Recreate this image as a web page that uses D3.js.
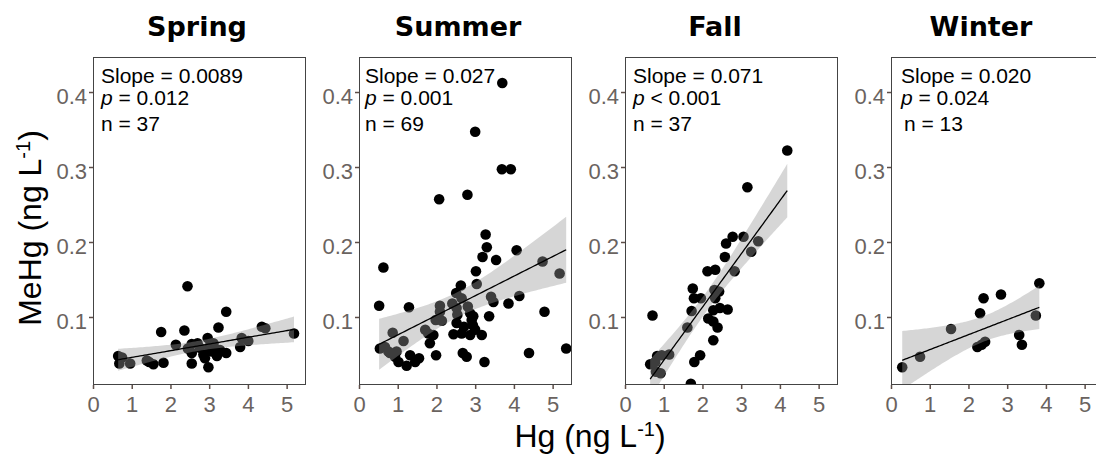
<!DOCTYPE html>
<html>
<head>
<meta charset="utf-8">
<script src="https://cdn.jsdelivr.net/npm/d3@7"></script>
<style>
  html, body { margin: 0; padding: 0; background: #fff; }
  svg { display: block; }
</style>
</head>
<body>
<script>
// ---------------- DATA ----------------
const seasons = ["Spring", "Summer", "Fall", "Winter"];

const springHg   = [2.44,3.44,1.76,2.36,3.24,4.36,4.45,5.19,2.14,2.96,2.55,3.11,3.84,4.01,3.80,0.65,0.68,0.96,1.39,1.56,1.82,2.55,2.98,2.55,2.85,3.07,3.20,3.44,2.76,3.28,2.89,2.70,3.00,1.45,2.45,3.15,0.75];
const springMeHg = [0.141,0.107,0.080,0.082,0.086,0.087,0.085,0.078,0.063,0.072,0.064,0.065,0.072,0.068,0.060,0.048,0.038,0.038,0.042,0.037,0.039,0.038,0.033,0.052,0.050,0.054,0.048,0.052,0.059,0.056,0.045,0.065,0.060,0.040,0.058,0.058,0.046];

const summerHg   = [3.70,3.00,3.69,3.92,2.80,2.07,3.27,3.30,3.19,3.54,4.07,0.63,3.02,4.74,5.18,2.63,3.04,2.51,2.65,3.41,3.47,4.14,3.86,0.52,1.29,2.09,2.41,2.81,1.98,2.14,2.54,2.95,3.36,4.79,0.87,1.15,1.79,1.92,2.44,2.65,2.87,3.17,2.71,2.94,2.52,1.83,0.67,0.80,0.93,1.02,1.23,1.32,1.55,1.45,1.99,2.68,2.78,3.24,4.39,5.35,0.54,0.76,0.97,2.52,2.87,2.09,1.71,3.00,2.91];
const summerMeHg = [0.412,0.347,0.297,0.297,0.263,0.257,0.210,0.193,0.180,0.176,0.189,0.166,0.161,0.174,0.158,0.142,0.144,0.132,0.125,0.127,0.120,0.128,0.118,0.115,0.113,0.115,0.118,0.114,0.096,0.095,0.103,0.101,0.101,0.107,0.079,0.068,0.078,0.076,0.077,0.078,0.076,0.076,0.087,0.089,0.092,0.065,0.060,0.052,0.047,0.040,0.035,0.049,0.045,0.040,0.049,0.052,0.047,0.040,0.052,0.058,0.058,0.054,0.054,0.112,0.105,0.107,0.083,0.083,0.096];

const fallHg   = [4.19,3.16,2.61,2.78,3.06,3.44,3.26,2.58,2.83,2.13,2.33,1.75,2.31,2.43,1.78,1.96,2.33,1.72,0.71,2.28,2.45,2.65,2.15,2.28,2.39,1.61,2.28,1.94,1.79,0.65,0.83,0.95,1.14,0.80,1.70,0.78,0.92];
const fallMeHg = [0.322,0.273,0.198,0.207,0.207,0.201,0.187,0.180,0.161,0.161,0.163,0.138,0.136,0.134,0.125,0.125,0.125,0.108,0.102,0.109,0.112,0.110,0.098,0.094,0.086,0.086,0.069,0.049,0.040,0.037,0.048,0.049,0.050,0.027,0.011,0.040,0.025];

const winterHg   = [3.83,2.84,2.39,2.30,3.74,1.55,3.31,3.38,2.43,2.34,2.23,0.75,0.29];
const winterMeHg = [0.145,0.130,0.125,0.105,0.102,0.084,0.076,0.063,0.067,0.063,0.060,0.047,0.033];

const slopeLabels = ["0.0089", "0.027", "0.071", "0.020"];
const pOps        = ["=", "=", "<", "="];
const pValues     = ["0.012", "0.001", "0.001", "0.024"];
const nLabels     = ["37", "69", "37", "13"];

const xTicks = [0, 1, 2, 3, 4, 5];
const yTicks = [0.1, 0.2, 0.3, 0.4];
const xDomain = [0, 5.5];
const yDomain = [0.0093, 0.4467];

const panelData = [
  {hg: springHg, mehg: springMeHg},
  {hg: summerHg, mehg: summerMeHg},
  {hg: fallHg,   mehg: fallMeHg},
  {hg: winterHg, mehg: winterMeHg}
];

// ---------------- LAYOUT ----------------
const W = 1096, H = 467;
const panelLefts = [93, 359, 625, 891];
const panelW = 213, panelTop = 57, panelBottom = 385;
const titleCenters = [197, 458, 715, 981];
const annotX = [101, 365, 633, 901];
const nX = [101, 365, 633, 904];

const svg = d3.select("body").append("svg").attr("width", W).attr("height", H);
const defs = svg.append("defs");

// t quantile (0.975) via Cornish-Fisher expansion
function tq(df) {
  const z = 1.959964;
  const z3 = z*z*z, z5 = z3*z*z, z7 = z5*z*z;
  return z + (z3 + z)/(4*df) + (5*z5 + 16*z3 + 3*z)/(96*df*df)
           + (3*z7 + 19*z5 + 17*z3 - 15*z)/(384*df*df*df);
}
function fit(xs, ys) {
  const n = xs.length;
  const mx = d3.mean(xs), my = d3.mean(ys);
  let sxx = 0, sxy = 0;
  for (let i = 0; i < n; i++) { sxx += (xs[i]-mx)**2; sxy += (xs[i]-mx)*(ys[i]-my); }
  const b = sxy / sxx, a = my - b*mx;
  let sse = 0;
  for (let i = 0; i < n; i++) sse += (ys[i] - a - b*xs[i])**2;
  const s = Math.sqrt(sse/(n-2));
  return {a, b, s, n, mx, sxx, t: tq(n-2)};
}

const tickColor = "#5e4e48";
const tickTextColor = "#6a6360";

panelData.forEach((pd, i) => {
  const L = panelLefts[i];
  const x = d3.scaleLinear().domain(xDomain).range([L, L + panelW]);
  const y = d3.scaleLinear().domain(yDomain).range([panelBottom, panelTop]);

  const clipId = "clip" + i;
  defs.append("clipPath").attr("id", clipId)
    .append("rect").attr("x", L).attr("y", panelTop)
    .attr("width", panelW).attr("height", panelBottom - panelTop);

  const g = svg.append("g");
  const inner = g.append("g").attr("clip-path", `url(#${clipId})`);

  const pts = pd.hg.map((v, k) => [v, pd.mehg[k]]);
  inner.selectAll("circle").data(pts).join("circle")
    .attr("cx", d => x(d[0])).attr("cy", d => y(d[1]))
    .attr("r", 5.3).attr("fill", "#000");

  const f = fit(pd.hg, pd.mehg);
  const [xmin, xmax] = d3.extent(pd.hg);
  const xs = d3.range(0, 81).map(k => xmin + (xmax - xmin) * k / 80);
  const band = xs.map(xv => {
    const yh = f.a + f.b * xv;
    const se = f.s * Math.sqrt(1/f.n + (xv - f.mx)**2 / f.sxx);
    return {x: xv, y: yh, lo: yh - f.t*se, hi: yh + f.t*se};
  });
  inner.append("path").datum(band)
    .attr("d", d3.area().x(d => x(d.x)).y0(d => y(d.lo)).y1(d => y(d.hi)))
    .attr("fill", "#999999").attr("fill-opacity", 0.4);
  inner.append("path").datum(band)
    .attr("d", d3.line().x(d => x(d.x)).y(d => y(d.y)))
    .attr("fill", "none").attr("stroke", "#000").attr("stroke-width", 1.3);

  // border
  g.append("rect").attr("x", L + 0.5).attr("y", panelTop + 0.5)
    .attr("width", panelW - 1).attr("height", panelBottom - panelTop - 1)
    .attr("fill", "none").attr("stroke", "#444").attr("stroke-width", 1);

  // axes
  const xAxis = g.append("g").attr("transform", `translate(0,${panelBottom})`)
    .call(d3.axisBottom(x).tickValues(xTicks).tickFormat(d3.format("d")).tickSize(4).tickPadding(7));
  const yAxis = g.append("g").attr("transform", `translate(${L},0)`)
    .call(d3.axisLeft(y).tickValues(yTicks).tickFormat(d3.format(".1f")).tickSize(4).tickPadding(2));
  [xAxis, yAxis].forEach(ax => {
    ax.select(".domain").remove();
    ax.selectAll("line").attr("stroke", tickColor).attr("stroke-width", 1.5);
    ax.selectAll("text").attr("fill", tickTextColor)
      .style("font-family", "'Liberation Sans', Arial, sans-serif").style("font-size", "22px");
  });
  yAxis.selectAll("text").attr("dy", "0.52em");

  // title
  svg.append("text").attr("x", titleCenters[i]).attr("y", 36)
    .attr("text-anchor", "middle")
    .style("font-family", "'DejaVu Sans', Verdana, sans-serif")
    .style("font-weight", "bold").style("font-size", "27px")
    .text(seasons[i]);

  // annotations
  const af = "'Liberation Sans', Arial, sans-serif";
  svg.append("text").attr("x", annotX[i]).attr("y", 83)
    .style("font-family", af).style("font-size", "21px")
    .text("Slope = " + slopeLabels[i]);
  const pt = svg.append("text").attr("x", annotX[i]).attr("y", 105)
    .style("font-family", af).style("font-size", "21px");
  pt.append("tspan").style("font-style", "italic").text("p");
  pt.append("tspan").text(" " + pOps[i] + " " + pValues[i]);
  svg.append("text").attr("x", nX[i]).attr("y", 131)
    .style("font-family", af).style("font-size", "21px")
    .text("n = " + nLabels[i]);
});

// axis titles
const lf = "'Liberation Sans', Arial, sans-serif";
const yl = svg.append("text")
  .attr("transform", "translate(41,228) rotate(-90)")
  .attr("text-anchor", "middle")
  .style("font-family", lf).style("font-size", "32px");
yl.append("tspan").text("MeHg (ng L");
yl.append("tspan").attr("baseline-shift", "super").style("font-size", "20px").text("-1");
yl.append("tspan").text(")");

const xl = svg.append("text")
  .attr("x", 590).attr("y", 447)
  .attr("text-anchor", "middle")
  .style("font-family", lf).style("font-size", "32px");
xl.append("tspan").text("Hg (ng L");
xl.append("tspan").attr("baseline-shift", "super").style("font-size", "20px").text("-1");
xl.append("tspan").text(")");
</script>
</body>
</html>
